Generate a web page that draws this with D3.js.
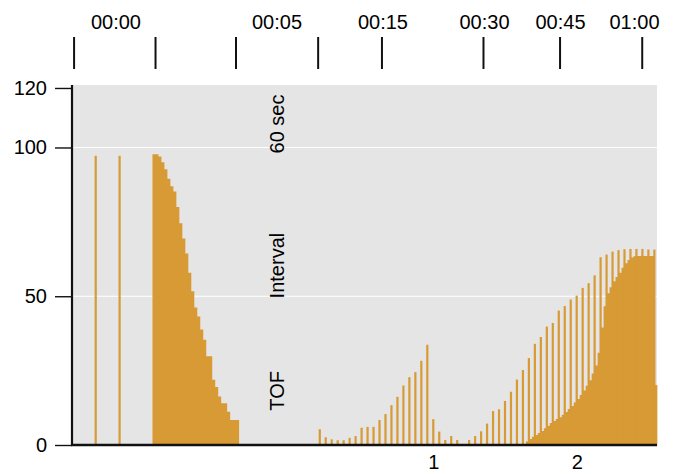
<!DOCTYPE html>
<html><head><meta charset="utf-8">
<script src="https://cdn.jsdelivr.net/npm/d3@7/dist/d3.min.js"></script>
<style>
body{margin:0;background:#fff}
svg{display:block;font-family:"Liberation Sans",Arial,Helvetica,sans-serif}
</style>
</head><body>
<svg id="chart" width="673" height="474"></svg>
<script>
// ---------- data ----------
const yTicks = [0, 50, 100, 120];
const yGrid = [50, 100];
const bottomTicks = [1, 2];
const topTickPos = [-1.505, -0.937, -0.376, 0.197, 0.642, 1.35, 1.884, 2.457];
const topLabels = ["00:00", "00:05", "00:15", "00:30", "00:45", "01:00"];
const topLabelPos = [-1.213, -0.09, 0.649, 1.357, 1.887, 2.403];
const sideLabels = ["60 sec", "Interval", "TOF"];
const sideLabelVal = [107.9, 60.3, 18.2];
const sideLabelPos = -0.09;

// isolated thin bars (position in units, value)
const soloPos = [-65/48, -57/48];
const soloValues = [97.2, 97.2];

// thin bars, one every 1/24 unit starting at 0.2083
const thinStart = 0.20833;
const thinStep = 1/24;
const thinValues = [5.3, 2.6, 1.9, 1.6, 1.6, 2.4, 3.0, 5.8, 6.1, 6.1,
  8.4, 10.4, 13.4, 16.2, 20.0, 22.8, 24.5, 28.3, 33.7, 8.7,
  4.5, 1.7, 3.0, 1.7, 0, 1.7, 3.0, 4.6, 7.2, 11.4,
  12.0, 14.8, 17.9, 22.0, 25.2, 29.2, 34.0, 36.3, 39.8, 41.0,
  45.2, 46.7, 48.9, 50.2, 52.8, 54.4, 57.0, 63.1, 64.0, 65.0,
  65.5, 65.8, 65.9, 65.9, 65.9, 65.7, 65.7];

// dense blocks, bins of 1/48 unit
const denseStep = 1/48;
const denseAStart = -46/48;
const denseAValues = [97.7, 97.7, 97.0, 95.0, 92.7, 89.5, 87.0, 85.2, 80.0, 74.5,
  69.4, 64.4, 57.9, 51.7, 46.2, 43.2, 38.8, 35.4, 29.8, 29.8,
  21.9, 19.5, 16.3, 14.0, 14.0, 11.2, 8.4, 8.4, 8.4];
const denseBStart = 79/48;
const denseBValues = [1.2, 2.0, 2.8, 3.4, 4.0, 4.7, 5.6, 6.5, 7.4, 8.1,
  8.7, 9.3, 10.2, 11.1, 12.1, 13.1, 14.3, 15.5, 16.8, 18.3,
  19.9, 21.8, 24.0, 26.7, 31.0, 39.5, 46.6, 51.0, 53.0, 55.0,
  56.5, 57.9, 59.6, 61.1, 62.2, 63.0, 63.4, 63.5, 63.5, 63.5,
  63.5, 63.5, 63.5, 20.2];

// ---------- drawing ----------
(function () {
const pL = 72, pR = 657, pT = 85, pB = 445;
const barColor = "#d79a35";
const svg = d3.select("#chart");

const x = d3.scaleLinear().domain([-1.5195, 2.56]).range([pL, pR]);
const y = d3.scaleLinear().domain([0, 121]).range([pB, pT]);

svg.append("rect").attr("x", pL).attr("y", pT)
  .attr("width", pR - pL).attr("height", pB - pT).attr("fill", "#e5e5e5");

svg.append("g").selectAll("line").data(yGrid).join("line")
  .attr("x1", pL).attr("x2", pR)
  .attr("y1", d => y(d)).attr("y2", d => y(d))
  .attr("stroke", "#fff").attr("stroke-width", 1.2);

const bars = svg.append("g").attr("fill", barColor);

// dense blocks as stepped areas (one bin per value)
const stepArea = d3.area()
  .x(d => x(d[0])).y0(y(0)).y1(d => y(d[1]))
  .curve(d3.curveStepAfter);
function dense(start, vals) {
  const pts = vals.map((v, i) => [start + i * denseStep, v]);
  pts.push([start + vals.length * denseStep, vals[vals.length - 1]]);
  bars.append("path").attr("d", stepArea(pts));
}
dense(denseAStart, denseAValues);
dense(denseBStart, denseBValues);

const thinW = 2.2;
bars.append("g").selectAll("rect").data(thinValues).join("rect")
  .attr("x", (d, i) => x(thinStart + i * thinStep) - thinW / 2)
  .attr("width", thinW)
  .attr("y", d => y(d))
  .attr("height", d => y(0) - y(d));

bars.append("g").selectAll("rect").data(soloValues).join("rect")
  .attr("x", (d, i) => x(soloPos[i]) - thinW / 2)
  .attr("width", thinW)
  .attr("y", d => y(d))
  .attr("height", d => y(0) - y(d));

// left axis
const ga = svg.append("g").attr("transform", `translate(${pL},0)`)
  .call(d3.axisLeft(y).tickValues(yTicks).tickSize(17).tickPadding(8).tickFormat(d3.format("d")));
ga.select(".domain").remove();
ga.selectAll(".tick line").attr("stroke", "#111").attr("stroke-width", 1.4);
ga.selectAll(".tick text").attr("font-size", 20).attr("fill", "#000")
  .attr("font-family", "Liberation Sans, Arial, sans-serif");
svg.append("line").attr("x1", pL).attr("x2", pL).attr("y1", pT).attr("y2", pB + 1)
  .attr("stroke", "#111").attr("stroke-width", 2.2);

// bottom axis
svg.append("line").attr("x1", pL - 1).attr("x2", pR).attr("y1", pB).attr("y2", pB)
  .attr("stroke", "#111").attr("stroke-width", 2.4);
const gb = svg.append("g").attr("transform", `translate(0,${pB})`)
  .call(d3.axisBottom(x).tickValues(bottomTicks).tickSize(0).tickPadding(10).tickFormat(d3.format("d")));
gb.select(".domain").remove();
gb.selectAll(".tick text").attr("font-size", 20).attr("fill", "#000")
  .attr("font-family", "Liberation Sans, Arial, sans-serif");

// top ticks
svg.append("g").selectAll("line").data(topTickPos).join("line")
  .attr("x1", d => x(d)).attr("x2", d => x(d))
  .attr("y1", 37).attr("y2", 69)
  .attr("stroke", "#111").attr("stroke-width", 2);
svg.append("g").selectAll("text").data(topLabels).join("text")
  .attr("x", (d, i) => x(topLabelPos[i])).attr("y", 29)
  .attr("text-anchor", "middle").attr("font-size", 20).attr("fill", "#000")
  .text(d => d);

// side labels (rotated)
svg.append("g").selectAll("text").data(sideLabels).join("text")
  .attr("transform", (d, i) => `translate(${x(sideLabelPos) + 7},${y(sideLabelVal[i])}) rotate(-90)`)
  .attr("text-anchor", "middle").attr("font-size", 20).attr("fill", "#000")
  .text(d => d);
})();
</script>
</body></html>
